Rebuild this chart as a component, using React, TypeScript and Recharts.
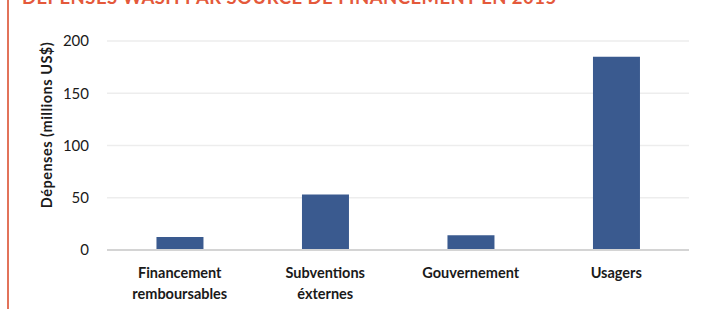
import { BarChart, Bar, XAxis, YAxis, CartesianGrid } from "recharts";

const categories = [
  "Financement\nremboursables",
  "Subventions\néxternes",
  "Gouvernement",
  "Usagers",
];
const depenses = [12.5, 53, 14, 185];
const yTicks = [0, 50, 100, 150, 200];

const rows = categories.map((c, i) => ({ source: c, depenses: depenses[i] }));

const FONT = "Lato, 'Open Sans', sans-serif";

function CategoryTick(props: any) {
  const { x, y, payload } = props;
  const lines = String(payload.value).split("\n");
  return (
    <text
      x={x}
      y={y + 20}
      textAnchor="middle"
      fill="#1a1a1a"
      fontFamily={FONT}
      fontWeight={700}
      fontSize={14.5}
    >
      {lines.map((l, i) => (
        <tspan key={i} x={x} dy={i === 0 ? 0 : 21}>
          {l}
        </tspan>
      ))}
    </text>
  );
}

export default function App() {
  return (
    <div
      style={{
        position: "fixed",
        left: 0,
        top: 0,
        width: 704,
        height: 309,
        background: "#fff",
        overflow: "hidden",
      }}
    >
      {/* bord orange à gauche */}
      <div
        style={{
          position: "absolute",
          left: 7,
          top: 0,
          width: 2,
          height: 309,
          background: "#E2735A",
        }}
      />
      {/* titre, coupé en haut comme dans l'original */}
      <div
        style={{
          position: "absolute",
          left: 22,
          top: -13.5,
          fontFamily: FONT,
          fontWeight: 700,
          fontSize: 18.5,
          letterSpacing: 0.45,
          color: "#E4593B",
          whiteSpace: "nowrap",
          lineHeight: "20px",
        }}
      >
        DÉPENSES WASH PAR SOURCE DE FINANCEMENT EN 2015
      </div>
      <div
        style={{
          position: "absolute",
          left: 46,
          top: 125,
          transform: "translate(-50%, -50%) rotate(-90deg)",
          fontFamily: FONT,
          fontWeight: 700,
          fontSize: 14.5,
          letterSpacing: 0.5,
          color: "#1a1a1a",
          whiteSpace: "nowrap",
        }}
      >
        Dépenses (millions US$)
      </div>
      <div style={{ position: "absolute", left: 0, top: 0 }}>
        <BarChart
          width={704}
          height={309}
          data={rows}
          margin={{ top: 41, right: 15, bottom: 0, left: 0 }}
          barCategoryGap="34%"
        >
          <CartesianGrid vertical={false} stroke="#EDEDED" strokeWidth={1.5} />
          <XAxis
            dataKey="source"
            height={59}
            axisLine={{ stroke: "#D4D4D4", strokeWidth: 2 }}
            tickLine={false}
            interval={0}
            tick={<CategoryTick />}
          />
          <YAxis
            width={107}
            domain={[0, 200]}
            ticks={yTicks}
            axisLine={false}
            tickLine={false}
            tick={{ fill: "#1a1a1a", fontSize: 15, fontFamily: FONT, dx: -10 }}
          />
          <Bar dataKey="depenses" fill="#3A5A8F" isAnimationActive={false} />
        </BarChart>
      </div>
    </div>
  );
}
